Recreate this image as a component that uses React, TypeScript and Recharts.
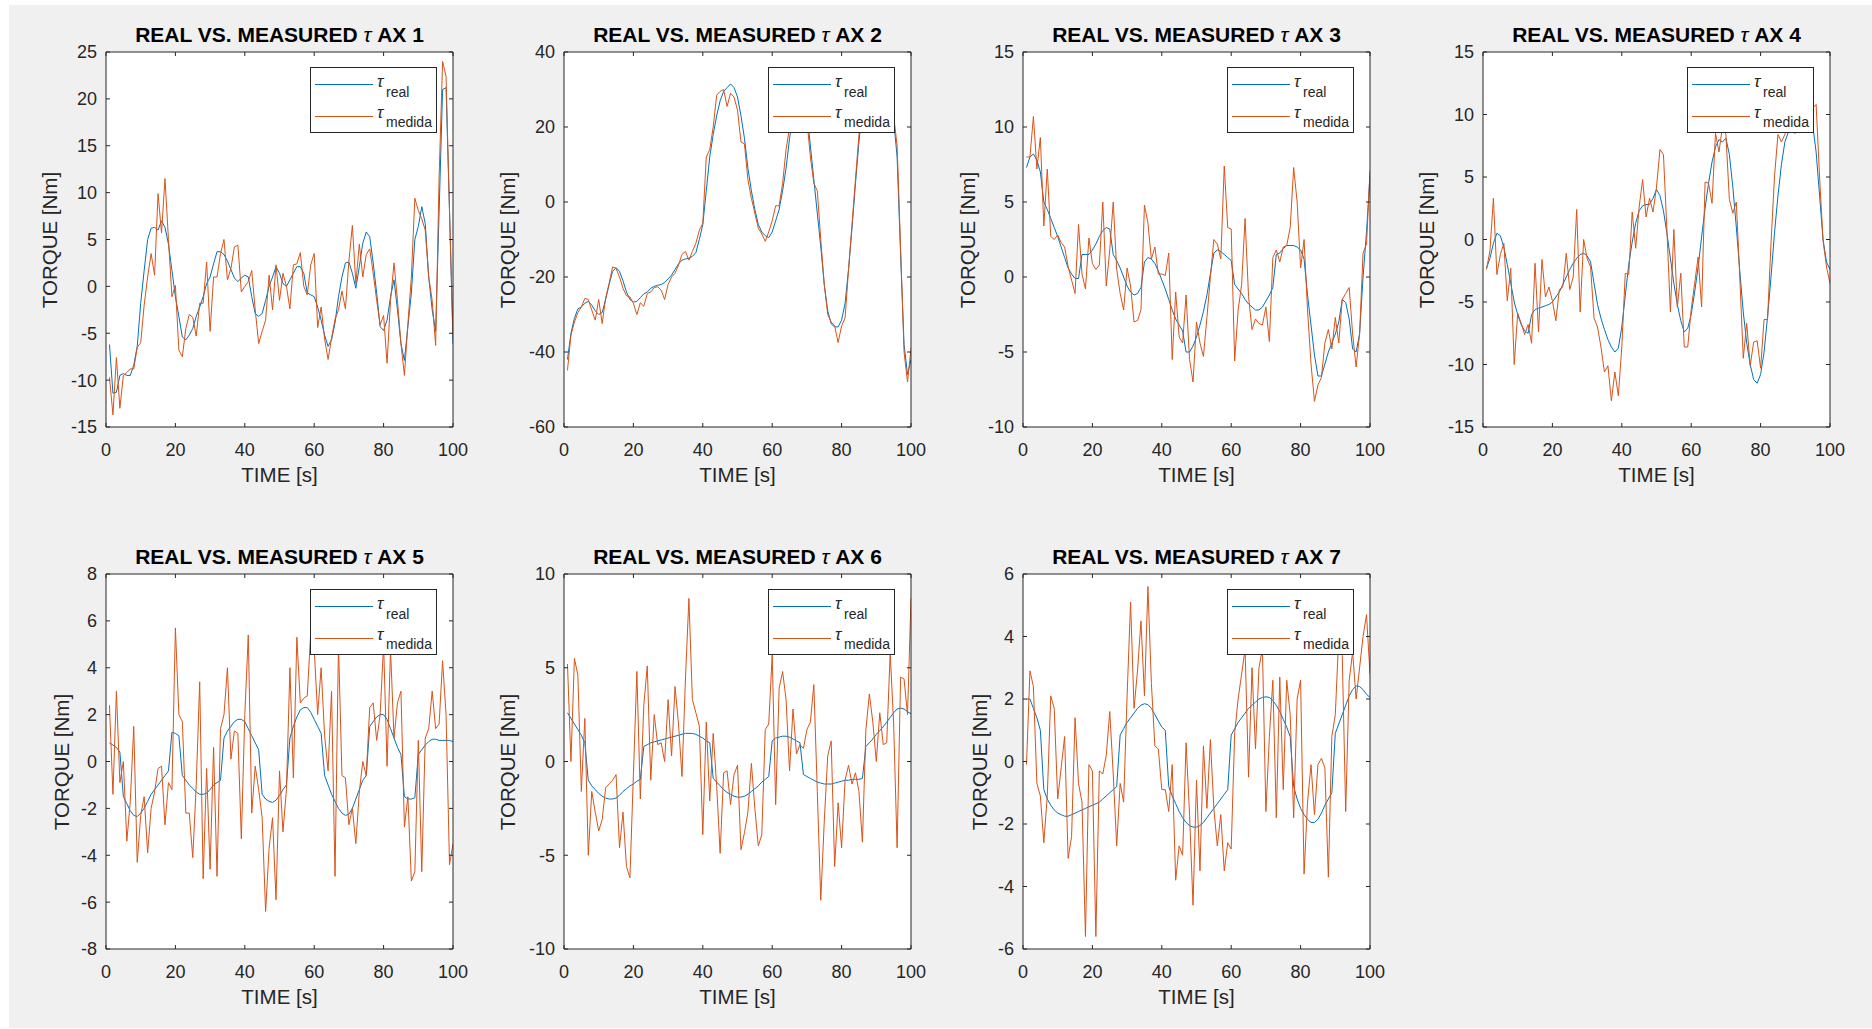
import { useMemo } from 'react';
import { LineChart, Line, XAxis, YAxis } from 'recharts';

const FONT = '"Liberation Sans", Arial, Helvetica, sans-serif';
const BLUE = '#0072BD';
const ORANGE = '#D95319';
const INK = '#262626';

// sample instants of the logged torques (1 s step)
const TIME = Array.from({ length: 100 }, (_, i) => i + 1);
const TIME_TICKS = [0, 20, 40, 60, 80, 100];

const Y_TICKS_1 = [-15, -10, -5, 0, 5, 10, 15, 20, 25];
const Y_TICKS_2 = [-60, -40, -20, 0, 20, 40];
const Y_TICKS_3 = [-10, -5, 0, 5, 10, 15];
const Y_TICKS_4 = [-15, -10, -5, 0, 5, 10, 15];
const Y_TICKS_5 = [-8, -6, -4, -2, 0, 2, 4, 6, 8];
const Y_TICKS_6 = [-10, -5, 0, 5, 10];
const Y_TICKS_7 = [-6, -4, -2, 0, 2, 4, 6];

const REAL_1 = [
  -6.2, -11.4, -11.3, -9.5, -9.3, -9.5, -9.5, -8.4, -6.4, -1.8,
  1.7, 5.0, 6.2, 6.3, 6.0, 7.0, 6.3, 4.5, 1.7, -1.1,
  -3.2, -5.4, -5.7, -5.2, -4.5, -3.2, -2.2, -1.1, 0.3, 1.0,
  2.4, 3.7, 3.7, 3.4, 2.7, 1.8, 0.9, 0.5, 0.9, 1.2,
  1.0, -1.1, -2.9, -3.2, -2.9, -1.5, 0.0, 1.0, 2.1, 1.4,
  0.3, 0.0, 0.7, 1.4, 2.1, 2.1, 1.4, -0.7, -0.9, -1.1,
  -2.2, -3.6, -5.2, -6.4, -5.7, -3.9, -1.1, 1.0, 2.5, 2.6,
  1.4, -0.2, 2.1, 4.6, 5.8, 5.3, 2.5, -0.7, -4.3, -4.7,
  -3.6, -1.1, 0.7, -2.5, -6.1, -7.9, -4.3, -0.7, 5.0, 6.4,
  8.5, 6.7, 1.0, -2.5, -4.8, 8.0, 21.0, 21.2, 8.0, -6.1,
];
const MEDIDA_1 = [
  -9.7, -13.7, -7.6, -13.0, -9.5, -9.2, -8.8, -8.8, -6.5, -6.0,
  -2.0, 1.0, 3.5, 1.2, 9.9, 5.7, 11.5, 5.0, -1.1, 0.1,
  -6.8, -7.5, -4.5, -3.0, -3.3, -5.3, -1.8, -1.8, 2.6, -4.8,
  1.0, 1.0, 3.5, 5.0, 0.7, 1.9, 4.2, 4.4, -0.6, 0.0,
  0.5, 1.7, -2.5, -6.1, -4.8, -3.6, 1.2, -2.5, 2.3, -1.5,
  1.4, 0.0, -2.4, 2.3, 2.4, 3.6, 0.0, -0.9, 2.3, 3.5,
  -4.4, -2.2, -5.6, -7.8, -5.5, -3.5, -2.5, -0.5, -2.4, 2.7,
  6.5, 0.3, 4.5, 1.0, 3.4, 4.0, 1.4, -1.5, -4.1, -3.1,
  -8.2, -1.5, 2.5, -1.5, -6.1, -9.5, -4.0, 1.0, 9.4, 8.1,
  7.2, 6.0, 1.0, -1.5, -6.3, 11.7, 24.0, 22.4, 8.0, -5.2,
];

const REAL_2 = [
  -42, -35, -31, -28.5, -28, -27, -26.5, -27.5, -29, -30,
  -29.5, -26, -22, -18.5, -17.5, -18.5, -21, -24, -26, -26.7,
  -26.5, -25.5, -24.5, -24, -23, -22.5, -22.2, -22, -21.5, -20.5,
  -19.5, -18, -16.5, -15.5, -15.2, -15, -14.5, -13.5, -10, -6,
  3, 12, 18, 23, 27, 29.5, 30.5, 31.5, 30.5, 28,
  23, 17, 9, 3, -2, -6, -8, -9, -9.5, -8,
  -5, -2, 3, 9, 17, 23, 28, 31, 30, 24,
  15, 6, -3, -12, -22, -29, -32.5, -33.3, -33.3, -31.5,
  -27, -18, -7, 5, 16, 25, 30, 32.5, 33.5, 33.5,
  33, 32, 30, 27, 22, 12, -14, -38, -46, -42,
];
const MEDIDA_2 = [
  -44.9, -35.5, -32, -29.5, -28, -25.7, -26, -28.8, -31.5, -26,
  -32.4, -25.7, -21.7, -17.3, -17.7, -20, -23, -25, -25.3, -27,
  -30, -26.9, -27.8, -24.4, -24, -22.8, -22.6, -23.5, -26, -22,
  -20, -19, -16.8, -14, -13.2, -15.5, -13.2, -11, -7.5, -5.7,
  12, 14, 20, 28.5, 29.5, 30, 25.5, 29, 28, 24.5,
  16, 15.5, 6, 1, -3, -7, -8.5, -10.5, -8, -5,
  -1, -1, 5, 14, 20, 27, 31, 33, 31, 22,
  12, 5, 3, -10, -22, -30, -32, -33, -37.5, -33,
  -31, -18, -6, 6, 18, 27, 31, 33, 33, 32,
  33, 31, 30, 27, 23, 15, -12, -40, -48, -39,
];

const REAL_3 = [
  7.3, 8.0, 8.2, 7.8, 7.0, 5.0, 4.5, 3.9, 3.3, 2.7,
  2.0, 1.3, 0.6, 0.2, -0.1, -0.1, 1.5, 1.5, 1.5, 1.8,
  2.2, 2.7, 3.1, 3.3, 3.2, 1.5, 1.1, 0.6, 0.0, -0.6,
  -1.0, -1.2, -1.1, -0.7, 1.0, 1.3, 1.2, 0.9, 0.4, -0.2,
  -0.8, -1.5, -2.2, -2.8, -3.2, -3.6, -5.0, -5.0, -4.6, -4.0,
  -3.2, -2.3, -1.2, 0.2, 1.6, 1.8, 1.7, 1.5, 1.3, 1.1,
  -0.5, -0.8, -1.1, -1.5, -1.8, -2.0, -2.2, -2.2, -2.0, -1.6,
  -1.2, -0.7, 1.5, 1.6, 1.9, 2.1, 2.1, 2.1, 2.0, 1.8,
  1.2, -1.2, -3.2, -5.2, -6.6, -6.6, -5.8, -5.0, -4.4, -3.8,
  -3.0, -1.5, -1.7, -2.8, -4.8, -5.0, -3.8, 0.0, 3.0, 6.8,
];
const MEDIDA_3 = [
  8.0, 8.0, 10.7, 7.2, 9.3, 3.4, 7.2, 2.7, 2.5, 2.8,
  2.3, 2.0, 0.7, -0.2, -1.1, 3.5, 0.2, -0.8, 2.6, 0.9,
  0.5, 0.8, 5.0, -0.6, 1.8, 5.0, 0.5, -1.1, -2.2, 0.6,
  -0.6, -3.0, -2.9, -2.2, 4.8, 3.6, 1.2, 2.0, 0.2, 0.2,
  0.1, 1.6, -5.5, -1.0, -4.0, -4.4, -1.2, -5.5, -7.0, -3.0,
  -4.4, -5.3, -2.7, 0.0, 2.5, 2.2, 1.2, 7.4, 3.3, 3.2,
  -5.6, -2.2, -0.5, 3.9, -1.3, -3.5, -2.8, -3.1, -3.2, -2.0,
  -4.3, 1.3, 1.8, 1.0, 2.0, 2.1, 3.3, 7.3, 5.0, 0.6,
  2.5, -2.2, -5.8, -8.3, -7.2, -6.7, -4.4, -3.5, -4.8, -2.7,
  -4.4, -1.5, -1.1, -0.7, -3.8, -6.0, -3.8, 1.6, 2.2, 7.1,
];

const REAL_4 = [
  -2.3, -1.5, -0.3, 0.5, 0.3, -0.6, -2.0, -3.5, -5.0, -6.0,
  -6.8, -7.3, -7.5, -6.0, -5.6, -5.5, -5.4, -5.3, -5.2, -5.0,
  -4.6, -4.2, -3.6, -3.0, -2.4, -1.9, -1.5, -1.2, -1.1, -1.3,
  -1.8, -3.5, -5.2, -6.3, -7.2, -8.0, -8.6, -9.0, -8.7, -7.0,
  -4.5, -2.0, -0.2, 1.3, 2.3, 2.7, 2.8, 2.8, 3.3, 4.0,
  3.5, 2.3, 0.5, -1.5, -3.5, -5.2, -6.5, -7.4, -7.1, -6.0,
  -4.2, -2.2, 0.2, 2.5, 4.5, 6.2, 7.4, 8.0, 7.8, 8.1,
  6.8, 4.2, 1.0, -2.5, -5.8, -8.3, -10.0, -11.2, -11.5, -10.8,
  -9.0, -6.2, -3.0, 0.5, 3.5, 6.0, 7.8, 8.6, 9.0, 9.2,
  9.3, 9.4, 9.5, 9.5, 9.2, 7.0, 3.5, 0.0, -1.8, -2.4,
];
const MEDIDA_4 = [
  -2.4, -0.9, 3.3, -2.8, -1.2, -0.3, -4.9, -2.3, -10.0, -5.9,
  -6.7, -7.6, -6.8, -8.3, -1.9, -7.4, -1.6, -4.6, -3.8, -4.9,
  -6.5, -4.0, -3.8, -1.1, -4.0, -3.0, 2.4, -5.8, 0.0, -1.5,
  -2.2, -6.3, -7.0, -8.6, -10.6, -10.1, -12.9, -10.6, -12.5, -8.6,
  -2.7, -2.8, 2.2, -0.7, 2.6, 4.8, 1.8, 3.3, 2.2, 4.2,
  7.2, 6.8, 0.8, -5.8, 0.8, -5.4, -2.7, -8.6, -8.6, -5.6,
  -3.5, -1.4, -5.4, 4.6, 4.5, 2.9, 8.5, 7.0, 9.0, 8.4,
  3.2, 2.1, 3.0, -3.0, -9.5, -6.7, -10.1, -8.2, -8.1, -10.3,
  -6.4, -6.4, -0.3, 5.0, 8.4, 7.8, 8.4, 9.5, 8.6, 8.5,
  9.5, 10.0, 10.0, 10.5, 10.5, 10.8, 5.0, -0.1, -2.2, -3.5,
];

const REAL_5 = [
  0.8, 0.7, 0.6, 0.4, -1.5, -1.8, -2.1, -2.3, -2.35, -2.2,
  -2.0, -1.7, -1.4, -1.2, -1.0, -0.8, -0.6, -0.4, 1.25, 1.2,
  1.1, -0.6, -0.8, -1.0, -1.15, -1.3, -1.4, -1.4, -1.35, -1.2,
  -1.0, -0.9, -0.8, 1.0, 1.3, 1.5, 1.7, 1.8, 1.8, 1.7,
  1.4, 1.1, 0.8, 0.5, -1.4, -1.6, -1.7, -1.75, -1.65, -1.45,
  -1.2, -1.0, 1.0, 1.5, 1.9, 2.2, 2.3, 2.3, 2.1, 1.8,
  1.5, 1.2, -0.6, -1.0, -1.4, -1.7, -2.0, -2.2, -2.3, -2.25,
  -2.0, -1.6, -1.2, -0.8, -0.6, 1.5, 1.7, 1.9, 2.0, 2.0,
  1.8, 1.4, 1.0, 0.6, 0.3, -1.5, -1.6, -1.6, -1.55, 0.3,
  0.5, 0.7, 0.85, 0.95, 0.95, 0.9, 0.9, 0.9, 0.9, 0.85,
];
const MEDIDA_5 = [
  2.4, -1.4, 3.0, -0.9, 0.0, -3.4, -1.7, 1.5, -4.3, -2.3,
  -1.5, -3.9, -2.0, -1.3, -0.3, -0.2, -2.7, -0.9, -1.2, 5.7,
  2.0, 1.7, -2.2, -2.2, -4.1, -1.0, 3.4, -5.0, -0.3, -4.6,
  0.6, -4.9, 1.4, 2.0, 4.0, 0.1, 1.3, 1.2, -3.3, 2.0,
  5.4, -2.2, -0.2, -1.2, -2.4, -6.4, -3.7, -2.4, -5.9, -0.4,
  -3.0, -1.2, 4.0, -0.7, 5.3, 2.5, 2.7, 2.8, 5.5, 4.8,
  2.0, 4.0, 1.1, -0.4, 3.0, -4.9, 5.0, -0.6, -0.7, -2.7,
  -2.0, -3.5, -1.3, 0.0, -0.6, 2.3, 2.5, 0.9, 2.0, 5.0,
  -0.2, 4.8, 1.0, 2.5, 3.0, -2.8, -1.5, -5.1, -4.7, 0.9,
  -4.7, 1.0, 1.4, 3.0, 1.4, 1.6, 4.3, 2.0, -4.4, -3.5,
];

const REAL_6 = [
  2.6, 2.3, 2.0, 1.7, 1.4, 1.0, -1.0, -1.3, -1.5, -1.7,
  -1.85, -1.95, -2.0, -2.0, -1.95, -1.8, -1.6, -1.45, -1.3, -1.2,
  -1.05, -0.95, 0.8, 0.9, 1.0, 1.05, 1.1, 1.15, 1.2, 1.25,
  1.3, 1.35, 1.4, 1.45, 1.5, 1.5, 1.5, 1.45, 1.35, 1.25,
  1.1, 1.0, -0.9, -1.1, -1.3, -1.5, -1.65, -1.75, -1.85, -1.9,
  -1.9, -1.85, -1.75, -1.6, -1.45, -1.3, -1.1, -0.95, -0.8, 1.1,
  1.25, 1.3, 1.35, 1.35, 1.3, 1.2, 1.1, 1.0, -0.7, -0.8,
  -0.9, -1.0, -1.1, -1.15, -1.2, -1.2, -1.2, -1.15, -1.1, -1.05,
  -1.0, -1.0, -0.95, -0.95, -0.95, -0.9, 0.8, 1.0, 1.2, 1.45,
  1.65, 1.85, 2.1, 2.35, 2.6, 2.8, 2.85, 2.8, 2.65, 2.55,
];
const MEDIDA_6 = [
  5.2, 0.0, 5.5, 4.6, -1.6, 2.3, -5.0, -1.6, -2.7, -3.7,
  -3.1, -1.4, -1.2, -1.0, -0.7, -4.6, -2.7, -5.6, -6.2, -0.7,
  4.8, -2.0, 3.0, 5.1, -1.0, 2.5, 0.9, 1.0, 0.0, 3.3,
  0.3, 4.0, 2.0, -0.8, 4.4, 8.7, 3.3, 2.6, 1.9, -3.9,
  2.1, -2.1, 1.5, -1.3, -4.9, -0.6, -0.5, -2.3, -0.7, -0.2,
  -4.7, -3.8, -2.7, -0.1, -2.5, -4.5, -3.9, 1.7, 2.0, 5.7,
  -2.3, 3.9, 4.8, 3.3, -0.5, 2.8, 0.4, 0.9, 0.7, 1.7,
  2.1, 4.1, -1.6, -7.4, -3.2, 0.3, 1.1, -5.6, -2.2, -4.6,
  -1.0, -0.2, -1.2, -0.6, -1.6, -4.3, 1.7, 3.6, 2.1, 0.0,
  2.6, 0.9, 1.0, 5.8, 2.0, -4.6, 4.5, 4.4, 2.5, 8.7,
];

const REAL_7 = [
  2.0, 2.0, 1.7, 1.4, 1.0, -0.9, -1.2, -1.4, -1.55, -1.65,
  -1.7, -1.75, -1.75, -1.7, -1.65, -1.6, -1.55, -1.5, -1.45, -1.4,
  -1.35, -1.3, -1.2, -1.1, -1.0, -0.9, -0.8, 0.85, 1.05, 1.25,
  1.4, 1.55, 1.7, 1.8, 1.85, 1.82, 1.7, 1.5, 1.3, 1.1,
  1.0, -0.8, -1.1, -1.35, -1.6, -1.8, -1.95, -2.05, -2.1, -2.1,
  -2.05, -1.95, -1.8, -1.65, -1.5, -1.35, -1.2, -1.05, -0.9, 0.85,
  1.05, 1.25, 1.4, 1.55, 1.7, 1.8, 1.9, 2.0, 2.05, 2.07,
  2.05, 1.95, 1.8, 1.6, 1.35, 1.1, 0.8, -0.8, -1.2, -1.5,
  -1.7, -1.85, -1.95, -1.95, -1.85, -1.65, -1.4, -1.2, -1.0, 0.9,
  1.2, 1.5, 1.8, 2.1, 2.3, 2.42, 2.4, 2.3, 2.15, 2.05,
];
const MEDIDA_7 = [
  -0.1, 2.9, 2.4, -0.7, -1.1, -2.6, -1.1, 2.1, 1.7, -1.2,
  -0.2, 0.8, -3.1, -2.4, 1.4, -0.7, -1.3, -5.6, -0.1, -0.3,
  -5.6, -0.3, -0.4, 0.2, 1.6, -0.4, -2.7, -0.7, -1.3, 2.1,
  5.1, 1.7, 2.9, 4.5, 2.1, 5.6, 2.5, 0.5, 0.4, -0.9,
  -0.9, -1.6, -0.1, -3.8, -2.7, -3.0, 0.6, -1.7, -4.6, -0.6,
  -3.5, 0.5, -1.5, 0.7, -1.5, -2.7, -1.7, -3.5, -2.6, -2.8,
  0.9, 2.0, 2.8, 3.6, -0.5, 3.0, 0.4, 3.0, 3.6, -1.6,
  0.8, 2.6, -1.8, 2.7, -0.9, 2.6, 1.5, -1.8, 2.0, 2.6,
  -3.6, -1.3, -0.1, -1.7, -0.1, 0.1, -0.2, -3.7, 0.8, 1.5,
  4.0, 3.4, -1.6, 2.6, 3.5, 2.0, 3.0, 4.0, 4.7, 2.8,
];

const PLOT_W = 347;
const PLOT_H = 375;
const AX_L = 80;
const AX_R = 30;
const AX_T = 16;
const AX_B = 34;

const EmptyTick = () => <g />;

function LegendBox({ x, y }: { x: number; y: number }) {
  return (
    <svg
      width={127}
      height={66}
      style={{ position: 'absolute', left: x, top: y, overflow: 'visible' }}
    >
      <rect x={0.5} y={0.5} width={126} height={65} fill="#ffffff" stroke={INK} strokeWidth={1} />
      <line x1={5} x2={63} y1={17.5} y2={17.5} stroke={BLUE} strokeWidth={1} />
      <line x1={5} x2={63} y1={49.5} y2={49.5} stroke={ORANGE} strokeWidth={1} />
      <text x={67} y={20} fontFamily={FONT} fontSize={17} fontStyle="italic" fill={INK}>
        τ
      </text>
      <text x={76} y={30} fontFamily={FONT} fontSize={14} fill={INK}>real</text>
      <text x={67} y={51} fontFamily={FONT} fontSize={17} fontStyle="italic" fill={INK}>
        τ
      </text>
      <text x={76} y={60} fontFamily={FONT} fontSize={14} fill={INK}>medida</text>
    </svg>
  );
}

interface PanelProps {
  n:         number;
  x:         number; // plot area left, page px
  y:         number; // plot area top, page px
  real:      number[];
  medida:    number[];
  yTicks:    number[];
  ylabelGap: number;
}

function Panel({ n, x, y, real, medida, yTicks, ylabelGap }: PanelProps) {
  const realData = useMemo(() => TIME.map((t, i) => ({ t, v: real[i] })), [real]);
  const medidaData = useMemo(() => TIME.map((t, i) => ({ t, v: medida[i] })), [medida]);
  const yDomain: [number, number] = [yTicks[0], yTicks[yTicks.length - 1]];
  const tickStyle = { fill: INK, fontSize: 18, fontFamily: FONT };

  return (
    <>
      <div
        style={{
          position: 'absolute', left: x, top: y,
          width: PLOT_W, height: PLOT_H, background: '#ffffff',
        }}
      />
      <div style={{ position: 'absolute', left: x - AX_L, top: y - AX_T }}>
        <LineChart
          width={AX_L + PLOT_W + AX_R}
          height={AX_T + PLOT_H + AX_B}
          margin={{ top: 0, right: 0, bottom: 0, left: 0 }}
        >
          <XAxis
            xAxisId="b" dataKey="t" type="number" orientation="bottom"
            domain={[0, 100]} ticks={TIME_TICKS} allowDataOverflow interval={0}
            height={AX_B} tickSize={-4} tickMargin={20}
            stroke={INK} tick={tickStyle}
          />
          <XAxis
            xAxisId="t" dataKey="t" type="number" orientation="top"
            domain={[0, 100]} ticks={TIME_TICKS} allowDataOverflow interval={0}
            height={AX_T} tickSize={-4} stroke={INK} tick={EmptyTick}
          />
          <YAxis
            yAxisId="l" type="number" orientation="left"
            domain={yDomain} ticks={yTicks} allowDataOverflow interval={0}
            width={AX_L} tickSize={-4} tickMargin={13}
            stroke={INK} tick={tickStyle}
          />
          <YAxis
            yAxisId="r" type="number" orientation="right"
            domain={yDomain} ticks={yTicks} allowDataOverflow interval={0}
            width={AX_R} tickSize={-4} stroke={INK} tick={EmptyTick}
          />
          <Line
            xAxisId="b" yAxisId="l" data={realData} dataKey="v" type="linear"
            stroke={BLUE} strokeWidth={1} dot={false} activeDot={false}
            isAnimationActive={false}
          />
          <Line
            xAxisId="b" yAxisId="l" data={medidaData} dataKey="v" type="linear"
            stroke={ORANGE} strokeWidth={1} dot={false} activeDot={false}
            isAnimationActive={false}
          />
        </LineChart>
      </div>

      {/* title */}
      <div
        style={{
          position: 'absolute', left: x - 60, top: y - 29, width: PLOT_W + 120,
          height: 24, lineHeight: '24px', textAlign: 'center',
          fontFamily: FONT, fontSize: 21, fontWeight: 'bold', color: '#000',
          whiteSpace: 'nowrap',
        }}
      >
        REAL VS. MEASURED <span style={{ fontStyle: 'italic', fontWeight: 'normal' }}>τ</span> AX {n}
      </div>

      {/* x label */}
      <div
        style={{
          position: 'absolute', left: x, top: y + PLOT_H + 36, width: PLOT_W,
          height: 24, lineHeight: '24px', textAlign: 'center',
          fontFamily: FONT, fontSize: 20.5, color: INK,
        }}
      >
        TIME [s]
      </div>

      {/* y label */}
      <div
        style={{
          position: 'absolute', left: x - ylabelGap - 150, top: y + PLOT_H / 2 - 12,
          width: 300, height: 24, lineHeight: '24px', textAlign: 'center',
          fontFamily: FONT, fontSize: 20.5, color: INK,
          transform: 'rotate(-90deg)', whiteSpace: 'nowrap',
        }}
      >
        TORQUE [Nm]
      </div>

      <LegendBox x={x + 204} y={y + 15} />
    </>
  );
}

export default function App() {
  return (
    <div
      style={{
        position: 'fixed', left: 0, top: 0, width: 1872, height: 1029,
        background: '#ffffff', overflow: 'hidden',
      }}
    >
      <div
        style={{
          position: 'absolute', left: 9, top: 5, width: 1863, height: 1023,
          background: '#f0f0f0',
        }}
      />
      <Panel n={1} x={106}  y={52}  real={REAL_1} medida={MEDIDA_1} yTicks={Y_TICKS_1} ylabelGap={56} />
      <Panel n={2} x={564}  y={52}  real={REAL_2} medida={MEDIDA_2} yTicks={Y_TICKS_2} ylabelGap={56} />
      <Panel n={3} x={1023} y={52}  real={REAL_3} medida={MEDIDA_3} yTicks={Y_TICKS_3} ylabelGap={55} />
      <Panel n={4} x={1483} y={52}  real={REAL_4} medida={MEDIDA_4} yTicks={Y_TICKS_4} ylabelGap={56} />
      <Panel n={5} x={106}  y={574} real={REAL_5} medida={MEDIDA_5} yTicks={Y_TICKS_5} ylabelGap={44} />
      <Panel n={6} x={564}  y={574} real={REAL_6} medida={MEDIDA_6} yTicks={Y_TICKS_6} ylabelGap={56} />
      <Panel n={7} x={1023} y={574} real={REAL_7} medida={MEDIDA_7} yTicks={Y_TICKS_7} ylabelGap={43} />
    </div>
  );
}
